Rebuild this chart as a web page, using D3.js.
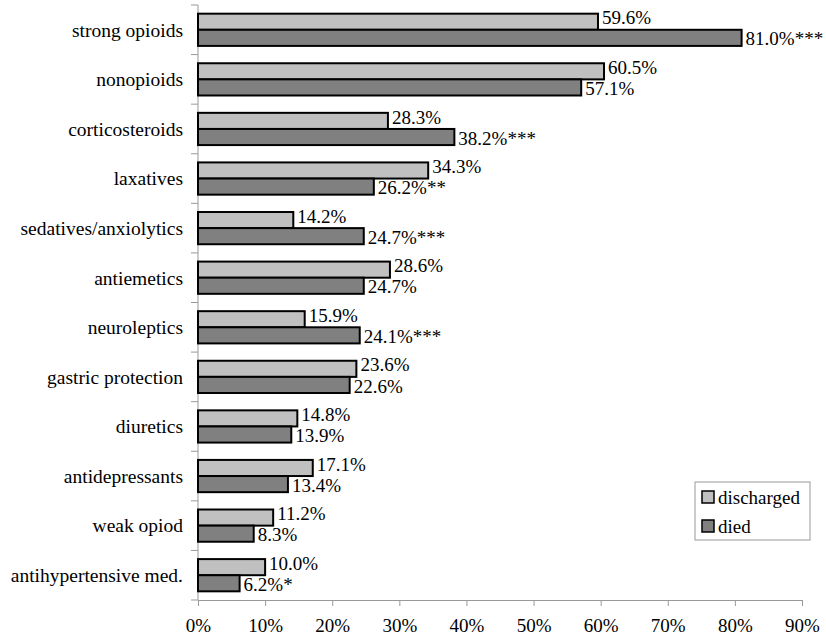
<!DOCTYPE html>
<html>
<head>
<meta charset="utf-8">
<script src="https://cdn.jsdelivr.net/npm/d3@7"></script>
<style>
  html, body { margin: 0; padding: 0; background: #fff; }
</style>
</head>
<body>
<svg id="chart" width="826" height="635"></svg>
<script>
// Medication categories, top to bottom
const categories = [
  "strong opioids", "nonopioids", "corticosteroids", "laxatives",
  "sedatives/anxiolytics", "antiemetics", "neuroleptics", "gastric protection",
  "diuretics", "antidepressants", "weak opiod", "antihypertensive med."
];
// Share of patients (%) per group
const discharged = [59.6, 60.5, 28.3, 34.3, 14.2, 28.6, 15.9, 23.6, 14.8, 17.1, 11.2, 10.0];
const died       = [81.0, 57.1, 38.2, 26.2, 24.7, 24.7, 24.1, 22.6, 13.9, 13.4, 8.3, 6.2];
// Significance markers on the "died" group
const diedMarks  = ["***", "", "***", "**", "***", "", "***", "", "", "", "", "*"];
const seriesNames = ["discharged", "died"];
const seriesColors = ["#c0c0c0", "#808080"];
const xTicks = [0, 10, 20, 30, 40, 50, 60, 70, 80, 90];

const FONT = "'Liberation Serif'";
const svg = d3.select("#chart").style("font-family", FONT);
const margin = { left: 198, right: 24, top: 5, bottom: 35 };
const W = 826, H = 635;

const x = d3.scaleLinear().domain([0, 90]).range([margin.left, W - margin.right]);
const y = d3.scaleBand().domain(categories).range([margin.top, H - margin.bottom]).paddingInner(0.35).paddingOuter(0.175);
const ySub = d3.scaleBand().domain(seriesNames).range([0, y.bandwidth()]);

const rows = categories.map((c, i) => ({
  cat: c,
  vals: [
    { s: "discharged", v: discharged[i], label: discharged[i].toFixed(1) + "%" },
    { s: "died", v: died[i], label: died[i].toFixed(1) + "%" + diedMarks[i] }
  ]
}));

// Left axis with category dividers
const yAxisG = svg.append("g");
yAxisG.append("line")
  .attr("x1", x(0)).attr("x2", x(0))
  .attr("y1", margin.top).attr("y2", H - margin.bottom)
  .attr("stroke", "#999").attr("stroke-width", 1);
const boundaries = d3.range(categories.length + 1).map(i => margin.top + i * y.step());
yAxisG.selectAll("line.tick").data(boundaries).join("line")
  .attr("class", "tick")
  .attr("x1", x(0) - 7).attr("x2", x(0))
  .attr("y1", d => d).attr("y2", d => d)
  .attr("stroke", "#999");
yAxisG.selectAll("text").data(categories).join("text")
  .attr("x", x(0) - 15)
  .attr("y", d => y(d) + y.bandwidth() / 2)
  .attr("dy", "0.35em")
  .attr("text-anchor", "end")
  .style("font-family", FONT)
  .style("font-size", "19.5px")
  .text(d => d);

// Bottom axis
const xAxis = d3.axisBottom(x).tickValues(xTicks).tickSize(6).tickFormat(d => d + "%");
const xg = svg.append("g")
  .attr("transform", `translate(0,${H - margin.bottom})`)
  .call(xAxis);
xg.attr("font-family", null);
xg.select(".domain").attr("stroke", "#999");
xg.selectAll(".tick line").attr("stroke", "#999");
xg.selectAll(".tick text")
  .attr("fill", "#000")
  .attr("y", 19)
  .attr("dy", "0.71em")
  .style("font-family", FONT)
  .style("font-size", "19px");

// Bars
const groups = svg.selectAll("g.row").data(rows).join("g")
  .attr("class", "row")
  .attr("transform", d => `translate(0,${y(d.cat)})`);

groups.selectAll("rect").data(d => d.vals).join("rect")
  .attr("x", x(0))
  .attr("y", d => ySub(d.s))
  .attr("width", d => x(d.v) - x(0))
  .attr("height", ySub.bandwidth())
  .attr("fill", (d, i) => seriesColors[i])
  .attr("stroke", "#000")
  .attr("stroke-width", 2);

groups.selectAll("text").data(d => d.vals).join("text")
  .attr("x", d => x(d.v) + 4)
  .attr("y", d => ySub(d.s) + ySub.bandwidth() / 2 + (d.s === "discharged" ? -4 : 1))
  .attr("dy", "0.35em")
  .style("font-family", FONT)
  .style("font-size", "19px")
  .text(d => d.label);

// Legend
const lg = svg.append("g").attr("transform", "translate(695,482)");
lg.append("rect").attr("width", 115).attr("height", 58)
  .attr("fill", "#fff").attr("stroke", "#999");
seriesNames.forEach((n, i) => {
  const yy = 15 + i * 29;
  lg.append("rect").attr("x", 7).attr("y", yy - 6).attr("width", 12).attr("height", 12)
    .attr("fill", seriesColors[i]).attr("stroke", "#000").attr("stroke-width", 1.5);
  lg.append("text").attr("x", 23).attr("y", yy).attr("dy", "0.35em")
    .style("font-family", FONT)
    .style("font-size", "19px").text(n);
});
</script>
</body>
</html>
